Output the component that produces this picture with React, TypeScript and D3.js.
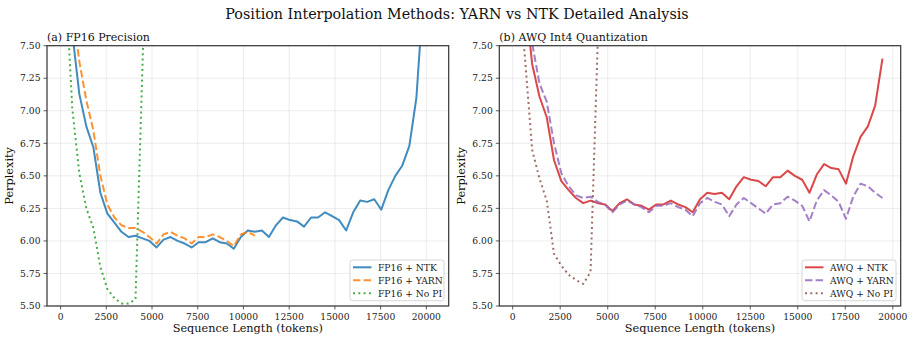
import * as d3 from 'd3'

// sequence lengths (tokens) shared by all runs
const seqLen = [
  256, 640, 1024, 1408, 1792, 2176, 2560, 2944, 3328, 3712, 4096, 4480, 4864,
  5248, 5632, 6016, 6400, 6784, 7168, 7552, 7936, 8320, 8704, 9088, 9472, 9856,
  10240, 10624, 11008, 11392, 11776, 12160, 12544, 12928, 13312, 13696, 14080,
  14464, 14848, 15232, 15616, 16000, 16384, 16768, 17152, 17536, 17920, 18304,
  18688, 19072, 19456, 19840, 20224,
]

const fp16Ntk = [
  8.3, 7.6, 7.13, 6.88, 6.72, 6.37, 6.21, 6.14, 6.07, 6.03, 6.04, 6.02, 6.0,
  5.95, 6.01, 6.03, 6.0, 5.98, 5.95, 5.99, 5.99, 6.02, 5.99, 5.98, 5.94, 6.03,
  6.08, 6.07, 6.08, 6.03, 6.12, 6.18, 6.16, 6.15, 6.11, 6.18, 6.18, 6.22, 6.19,
  6.16, 6.08, 6.22, 6.31, 6.3, 6.32, 6.24, 6.39, 6.5, 6.58, 6.73, 7.1, 7.9, 8.8,
]
const fp16Yarn = [
  8.2, 7.8, 7.38, 7.08, 6.85, 6.5, 6.28, 6.18, 6.12, 6.1, 6.1, 6.07, 6.03, 5.98,
  6.05, 6.07, 6.04, 6.02, 5.98, 6.03, 6.03, 6.05, 6.03, 6.0, 5.96, 6.05, 6.07, 6.04,
]
const fp16NoPi = [8.05, 7.02, 6.52, 6.25, 6.1, 5.8, 5.63, 5.56, 5.52, 5.52, 5.55, 7.35, 9.2]

const awqNtk = [
  8.3, 7.9, 7.36, 7.11, 6.95, 6.62, 6.46, 6.39, 6.33, 6.29, 6.31, 6.29, 6.28,
  6.23, 6.29, 6.32, 6.28, 6.27, 6.24, 6.28, 6.28, 6.31, 6.28, 6.26, 6.22, 6.32,
  6.37, 6.36, 6.37, 6.32, 6.42, 6.49, 6.47, 6.46, 6.42, 6.49, 6.49, 6.54, 6.5,
  6.47, 6.37, 6.51, 6.59, 6.56, 6.55, 6.44, 6.65, 6.8, 6.88, 7.04, 7.4,
]
const awqYarn = [
  8.4, 8.0, 7.52, 7.21, 7.07, 6.75, 6.52, 6.42, 6.35, 6.33, 6.34, 6.3, 6.28,
  6.22, 6.28, 6.31, 6.28, 6.26, 6.22, 6.27, 6.27, 6.29, 6.26, 6.24, 6.19, 6.29,
  6.33, 6.3, 6.28, 6.19, 6.28, 6.33, 6.29, 6.25, 6.21, 6.28, 6.29, 6.34, 6.31,
  6.27, 6.15, 6.31, 6.39, 6.35, 6.3, 6.17, 6.34, 6.44, 6.42, 6.37, 6.33,
]
const awqNoPi = [8.0, 7.42, 6.7, 6.48, 6.31, 5.9, 5.81, 5.74, 5.7, 5.67, 5.76, 7.55]

const xTicks = [0, 2500, 5000, 7500, 10000, 12500, 15000, 17500, 20000]
const yTicks = [5.5, 5.75, 6.0, 6.25, 6.5, 6.75, 7.0, 7.25, 7.5]

const FONT = "'DejaVu Serif', serif"

type Series = { label: string; values: number[]; color: string; dash: string | null }

function Panel({ id, left, right, title, series }: { id: string; left: number; right: number; title: string; series: Series[] }) {
  const top = 45.7
  const bottom = 306
  // matplotlib style 5% margins on x
  const n = d3.max(series, s => s.values.length) as number
  const [x0, x1] = d3.extent(seqLen.slice(0, n)) as [number, number]
  const pad = (x1 - x0) * 0.05
  const x = d3.scaleLinear().domain([x0 - pad, x1 + pad]).range([left, right])
  const y = d3.scaleLinear().domain([5.5, 7.5]).range([bottom, top])
  const line = d3.line<number>().x((_, i) => x(seqLen[i])).y(d => y(d))

  const legW = 94
  const legX = right - legW - 4.7
  const legY = 260

  return (
    <g>
      <defs>
        <clipPath id={id}>
          <rect x={left} y={top} width={right - left} height={bottom - top} />
        </clipPath>
      </defs>
      {xTicks.map(t => (
        <line key={'gx' + t} x1={x(t)} x2={x(t)} y1={top} y2={bottom} stroke="#b0b0b0" strokeOpacity={0.3} strokeWidth={0.8} />
      ))}
      {yTicks.map(t => (
        <line key={'gy' + t} x1={left} x2={right} y1={y(t)} y2={y(t)} stroke="#b0b0b0" strokeOpacity={0.3} strokeWidth={0.8} />
      ))}
      <g clipPath={`url(#${id})`}>
        {series.map(s => (
          <path key={s.label} d={line(s.values) ?? ''} fill="none" stroke={s.color} strokeOpacity={0.85}
            strokeWidth={2} strokeDasharray={s.dash ?? undefined} strokeLinejoin="round" />
        ))}
      </g>
      <rect x={left} y={top} width={right - left} height={bottom - top} fill="none" stroke="#333" strokeWidth={1.2} />
      {xTicks.map(t => (
        <g key={'tx' + t}>
          <line x1={x(t)} x2={x(t)} y1={bottom} y2={bottom + 3.5} stroke="#333" strokeWidth={0.8} />
          <text x={x(t)} y={bottom + 13.5} textAnchor="middle" fontSize={9.2} fontFamily={FONT} fill="#222">{t}</text>
        </g>
      ))}
      {yTicks.map(t => (
        <g key={'ty' + t}>
          <line x1={left - 3.5} x2={left} y1={y(t)} y2={y(t)} stroke="#333" strokeWidth={0.8} />
          <text x={left - 6.5} y={y(t)} dy="0.35em" textAnchor="end" fontSize={9.2} fontFamily={FONT} fill="#222">{d3.format('.2f')(t)}</text>
        </g>
      ))}
      <text x={left} y={40.5} fontSize={11} fontFamily={FONT} fill="#111">{title}</text>
      <text x={(left + right) / 2} y={332.3} textAnchor="middle" fontSize={11.3} fontFamily={FONT} fill="#111">Sequence Length (tokens)</text>
      <text transform={`translate(${left - 34},${(top + bottom) / 2}) rotate(-90)`} textAnchor="middle" fontSize={11.3}
        fontFamily={FONT} fill="#111">Perplexity</text>
      <rect x={legX} y={legY} width={legW} height={40.7} rx={2.5} fill="#fff" fillOpacity={0.8} stroke="#ccc" strokeWidth={0.8} />
      {series.map((s, i) => (
        <g key={'lg' + s.label}>
          <line x1={legX + 3} x2={legX + 21.5} y1={legY + 7.3 + i * 13} y2={legY + 7.3 + i * 13} stroke={s.color}
            strokeOpacity={0.85} strokeWidth={2} strokeDasharray={s.dash ?? undefined} />
          <text x={legX + 28} y={legY + 7.3 + i * 13} dy="0.35em" fontSize={9.2} fontFamily={FONT} fill="#222">{s.label}</text>
        </g>
      ))}
    </g>
  )
}

export default function App() {
  const DASH = '7.4,3.2'
  const DOT = '2,3.3'
  const leftSeries: Series[] = [
    { label: 'FP16 + NTK', values: fp16Ntk, color: '#1f77b4', dash: null },
    { label: 'FP16 + YARN', values: fp16Yarn, color: '#ff7f0e', dash: DASH },
    { label: 'FP16 + No PI', values: fp16NoPi, color: '#2ca02c', dash: DOT },
  ]
  const rightSeries: Series[] = [
    { label: 'AWQ + NTK', values: awqNtk, color: '#d62728', dash: null },
    { label: 'AWQ + YARN', values: awqYarn, color: '#9467bd', dash: DASH },
    { label: 'AWQ + No PI', values: awqNoPi, color: '#8c564b', dash: DOT },
  ]
  return (
    <svg width={914} height={341} style={{ position: 'absolute', left: 0, top: 0, background: '#fff' }}>
      <text x={457} y={18.8} textAnchor="middle" fontSize={14.3} fontFamily={FONT} fill="#111">
        Position Interpolation Methods: YARN vs NTK Detailed Analysis
      </text>
      <Panel id="clipA" left={47} right={448.7} title="(a) FP16 Precision" series={leftSeries} />
      <Panel id="clipB" left={499.3} right={900.7} title="(b) AWQ Int4 Quantization" series={rightSeries} />
    </svg>
  )
}
